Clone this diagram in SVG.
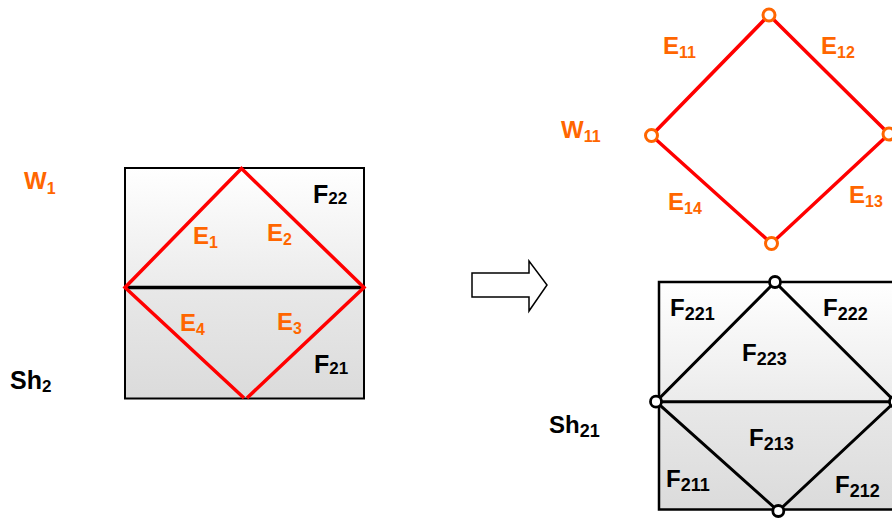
<svg xmlns="http://www.w3.org/2000/svg" width="892" height="518" viewBox="0 0 892 518">
<defs>
<linearGradient id="gUp" x1="0" y1="0" x2="0" y2="1">
<stop offset="0" stop-color="#ffffff"/><stop offset="1" stop-color="#ebebeb"/>
</linearGradient>
<linearGradient id="gLo" x1="0" y1="0" x2="0" y2="1">
<stop offset="0" stop-color="#e8e8e8"/><stop offset="1" stop-color="#dbdbdb"/>
</linearGradient>
<style>
text{font-family:"Liberation Sans",Arial,sans-serif;font-weight:bold}
.o{fill:#ff6600;font-size:24px}
.o tspan{font-size:16px}
.k{fill:#000;font-size:25px}
.k tspan{font-size:17px}
.b{fill:#000;font-size:24px}
.b tspan{font-size:18px}
.red{stroke:#ff0000;stroke-width:3.5;fill:none}
.blk{stroke:#000;stroke-width:3;fill:none}
.ov{fill:#fff;stroke:#ff6600;stroke-width:3}
.kv{fill:#fff;stroke:#000;stroke-width:2.8}
</style>
</defs>

<g id="left-shell">
<rect x="125" y="168" width="239" height="119.5" fill="url(#gUp)"/>
<rect x="125" y="287.5" width="239" height="111" fill="url(#gLo)"/>
<rect x="125" y="168" width="239" height="230.5" fill="none" stroke="#000" stroke-width="2"/>
<line x1="125" y1="287.5" x2="364" y2="287.5" stroke="#000" stroke-width="3.5"/>
<polyline class="red" points="244,398 125,287.5 241.5,168.5 364,287.5 247,398"/>
<text class="o" x="24" y="189">W<tspan dy="5">1</tspan></text>
<text class="k" x="10" y="389">Sh<tspan dy="3">2</tspan></text>
<text class="k" x="313" y="203">F<tspan dy="1">22</tspan></text>
<text class="k" x="314" y="373">F<tspan dy="1">21</tspan></text>
<text class="o" x="193" y="244">E<tspan dy="4">1</tspan></text>
<text class="o" x="267" y="241">E<tspan dy="4">2</tspan></text>
<text class="o" x="180" y="331">E<tspan dy="4">4</tspan></text>
<text class="o" x="277" y="330">E<tspan dy="4">3</tspan></text>
</g>

<g id="arrow">
<polygon points="472,273 529,273 529,261 547,285 529,311 529,297 472,297" fill="#fff" stroke="#000" stroke-width="1.5"/>
</g>

<g id="wire">
<polygon class="red" points="769,15 889,134 771.5,243.5 651.5,135.5"/>
<circle class="ov" cx="769" cy="15" r="6"/>
<circle class="ov" cx="651.5" cy="135.5" r="6"/>
<circle class="ov" cx="889" cy="134" r="6"/>
<circle class="ov" cx="771.5" cy="243.5" r="6"/>
<text class="o" x="663" y="54">E<tspan dy="4">11</tspan></text>
<text class="o" x="821" y="54">E<tspan dy="4">12</tspan></text>
<text class="o" x="561" y="138">W<tspan dy="4">11</tspan></text>
<text class="o" x="668" y="210">E<tspan dy="4">14</tspan></text>
<text class="o" x="849" y="203">E<tspan dy="4">13</tspan></text>
</g>

<g id="right-shell">
<rect x="659" y="282" width="240" height="120" fill="url(#gUp)"/>
<rect x="659" y="402" width="240" height="107.5" fill="url(#gLo)"/>
<rect x="659" y="282" width="240" height="227.5" fill="none" stroke="#000" stroke-width="2.5"/>
<line x1="656" y1="401.7" x2="895" y2="401.7" class="blk"/>
<polygon class="blk" points="775,282 895,401.7 778.3,511 656,401.7"/>
<circle class="kv" cx="775" cy="282" r="5.5"/>
<circle class="kv" cx="656" cy="401.7" r="5.5"/>
<circle class="kv" cx="778.3" cy="511" r="5.5"/>
<circle class="kv" cx="895" cy="401.7" r="5.5"/>
<text class="b" x="549" y="433">Sh<tspan dy="4">21</tspan></text>
<text class="b" x="670" y="316">F<tspan dy="4">221</tspan></text>
<text class="b" x="823" y="316">F<tspan dy="4">222</tspan></text>
<text class="b" x="742" y="361">F<tspan dy="4">223</tspan></text>
<text class="b" x="749" y="446">F<tspan dy="4">213</tspan></text>
<text class="b" x="666" y="487">F<tspan dy="4">211</tspan></text>
<text class="b" x="835" y="493">F<tspan dy="4">212</tspan></text>
</g>
</svg>
